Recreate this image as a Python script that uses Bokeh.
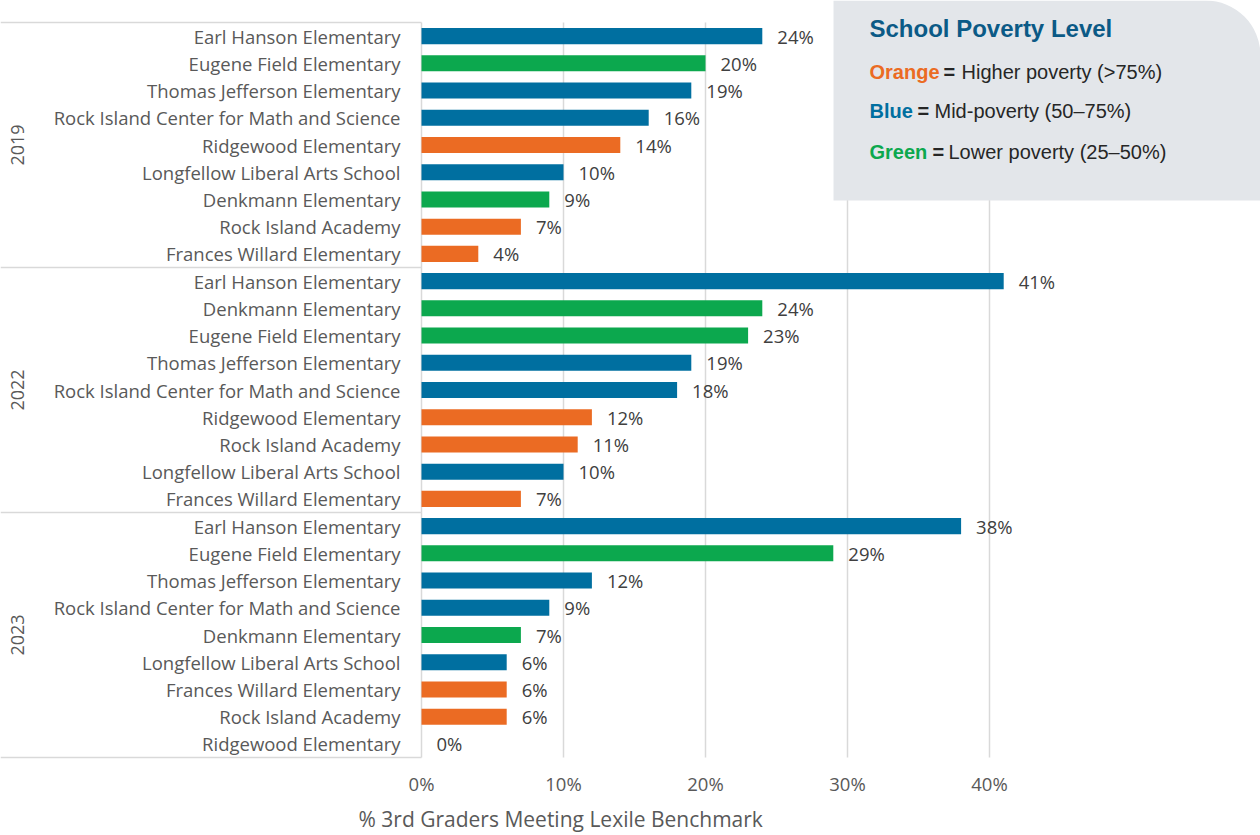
import numpy as np
from bokeh.plotting import figure
from bokeh.models import (Range1d, ColumnDataSource, BoxAnnotation, Label)
from bokeh.core.properties import value
from bokeh.embed import file_html
from bokeh.resources import INLINE

# ---------------- data ----------------
years = ["2019", "2022", "2023"]

schools_2019 = ["Earl Hanson Elementary", "Eugene Field Elementary", "Thomas Jefferson Elementary",
                "Rock Island Center for Math and Science", "Ridgewood Elementary",
                "Longfellow Liberal Arts School", "Denkmann Elementary", "Rock Island Academy",
                "Frances Willard Elementary"]
values_2019 = [24, 20, 19, 16, 14, 10, 9, 7, 4]

schools_2022 = ["Earl Hanson Elementary", "Denkmann Elementary", "Eugene Field Elementary",
                "Thomas Jefferson Elementary", "Rock Island Center for Math and Science",
                "Ridgewood Elementary", "Rock Island Academy", "Longfellow Liberal Arts School",
                "Frances Willard Elementary"]
values_2022 = [41, 24, 23, 19, 18, 12, 11, 10, 7]

schools_2023 = ["Earl Hanson Elementary", "Eugene Field Elementary", "Thomas Jefferson Elementary",
                "Rock Island Center for Math and Science", "Denkmann Elementary",
                "Longfellow Liberal Arts School", "Frances Willard Elementary",
                "Rock Island Academy", "Ridgewood Elementary"]
values_2023 = [38, 29, 12, 9, 7, 6, 6, 6, 0]

poverty_level = {
    "Earl Hanson Elementary": "Mid", "Eugene Field Elementary": "Lower",
    "Thomas Jefferson Elementary": "Mid", "Rock Island Center for Math and Science": "Mid",
    "Ridgewood Elementary": "Higher", "Longfellow Liberal Arts School": "Mid",
    "Denkmann Elementary": "Lower", "Rock Island Academy": "Higher",
    "Frances Willard Elementary": "Higher",
}
level_colors = {"Higher": "#EB6B23", "Mid": "#006FA0", "Lower": "#0CA84E"}

x_ticks = [0, 10, 20, 30, 40]
x_tick_labels = ["0%", "10%", "20%", "30%", "40%"]
x_title = "% 3rd Graders Meeting Lexile Benchmark"
legend_title = "School Poverty Level"
legend_words = ["Orange", "Blue", "Green"]
legend_texts = ["Higher poverty (>75%)", "Mid-poverty (50\u201375%)", "Lower poverty (25\u201350%)"]
legend_levels = ["Higher", "Mid", "Lower"]

# ---------------- layout helpers ----------------
W, H = 1260, 835
PLOT_BOTTOM = 757   # pixel of the bottom of the bar area
X0 = 421.0          # pixel of 0%
PX_PER = 14.2       # pixels per percent
TOP = 22.0
N = len(values_2019) + len(values_2022) + len(values_2023)
ROW = (PLOT_BOTTOM - TOP) / N

def X(px):
    return (px - X0) / PX_PER

def Y(py):
    return (py - TOP) / ROW - 0.5

schools = schools_2019 + schools_2022 + schools_2023
vals = values_2019 + values_2022 + values_2023
rows = list(range(N))
colors = [level_colors[poverty_level[s]] for s in schools]
labels = [f"{v}%" for v in vals]

src = ColumnDataSource(dict(row=rows, school=schools, val=vals, color=colors, label=labels,
                            zero=[0] * N))

p = figure(width=W, height=H, output_backend="svg", toolbar_location=None,
           x_range=Range1d(X(0), X(W)), y_range=Range1d(start=Y(H), end=Y(0)),
           min_border=0)
p.outline_line_color = None
p.xaxis.visible = False
p.yaxis.visible = False
p.xgrid.visible = False
p.ygrid.visible = False

FONT = "Open Sans"
GRAY = "#595959"

# vertical grid lines, limited to the bar area
p.segment(x0=x_ticks, x1=x_ticks, y0=[-0.5] * len(x_ticks), y1=[N - 0.5] * len(x_ticks),
          line_color="#D9D9D9", line_width=1.5)

# x tick labels and axis title
p.text(x=x_ticks, y=[Y(783)] * len(x_ticks), text=x_tick_labels,
       text_align="center", text_baseline="middle", text_font=value(FONT),
       text_font_size="18.5px", text_color=GRAY)
p.text(x=[X(358)], y=[Y(818)], text=[x_title],
       text_align="left", text_baseline="middle", text_font=value(FONT),
       text_font_size="21px", text_color=GRAY)

# bars
p.hbar(y="row", left="zero", right="val", height=0.59, fill_color="color",
       line_color=None, source=src)

# data labels
p.text(x="val", y="row", text="label", source=src, x_offset=15,
       text_align="left", text_baseline="middle", text_font=value(FONT),
       text_font_size="18.5px", text_color="#404040")

# school labels
p.text(x="zero", y="row", text="school", source=src, x_offset=-21,
       text_align="right", text_baseline="middle", text_font=value(FONT),
       text_font_size="18.5px", text_color=GRAY)

# table lines on the left
counts = [len(values_2019), len(values_2022), len(values_2023)]
bounds = np.concatenate([[0], np.cumsum(counts)]) - 0.5
p.segment(x0=[X(0)] * len(bounds), x1=[0] * len(bounds), y0=bounds, y1=bounds,
          line_color="#D9D9D9", line_width=1.5)

# year labels
mids = [(bounds[i] + bounds[i + 1]) / 2 for i in range(len(years))]
p.text(x=[X(17)] * len(years), y=mids, text=years, angle=np.pi / 2,
       text_align="center", text_baseline="middle", text_font=value(FONT),
       text_font_size="18px", text_color=GRAY)

# legend box
box = BoxAnnotation(left=X(833), right=X(W), top=Y(0), bottom=Y(200),
                    fill_color="#E3E6EA", fill_alpha=1.0, line_color=None,
                    border_radius=dict(top_left=0, top_right=55, bottom_right=0, bottom_left=0))
p.add_layout(box)

LFONT = "Liberation Sans"
p.add_layout(Label(x=X(869), y=Y(28), text=legend_title, text_font=LFONT,
                   text_font_size="24px", text_font_style="bold", text_color="#0B5A86",
                   text_baseline="middle"))
eq_px = [943, 917, 932]
rest_px = [961, 934, 948]
line_py = [71, 110, 151]
for i in range(3):
    p.add_layout(Label(x=X(869), y=Y(line_py[i]), text=legend_words[i], text_font=LFONT,
                       text_font_size="20px", text_font_style="bold",
                       text_color=level_colors[legend_levels[i]], text_baseline="middle"))
    p.add_layout(Label(x=X(eq_px[i]), y=Y(line_py[i]), text="=", text_font=LFONT,
                       text_font_size="20px", text_font_style="bold",
                       text_color="#262626", text_baseline="middle"))
    p.add_layout(Label(x=X(rest_px[i]), y=Y(line_py[i]), text=legend_texts[i], text_font=LFONT,
                       text_font_size="20px", text_font_style="normal",
                       text_color="#262626", text_baseline="middle"))

open("out.html", "w").write(file_html(p, INLINE))
